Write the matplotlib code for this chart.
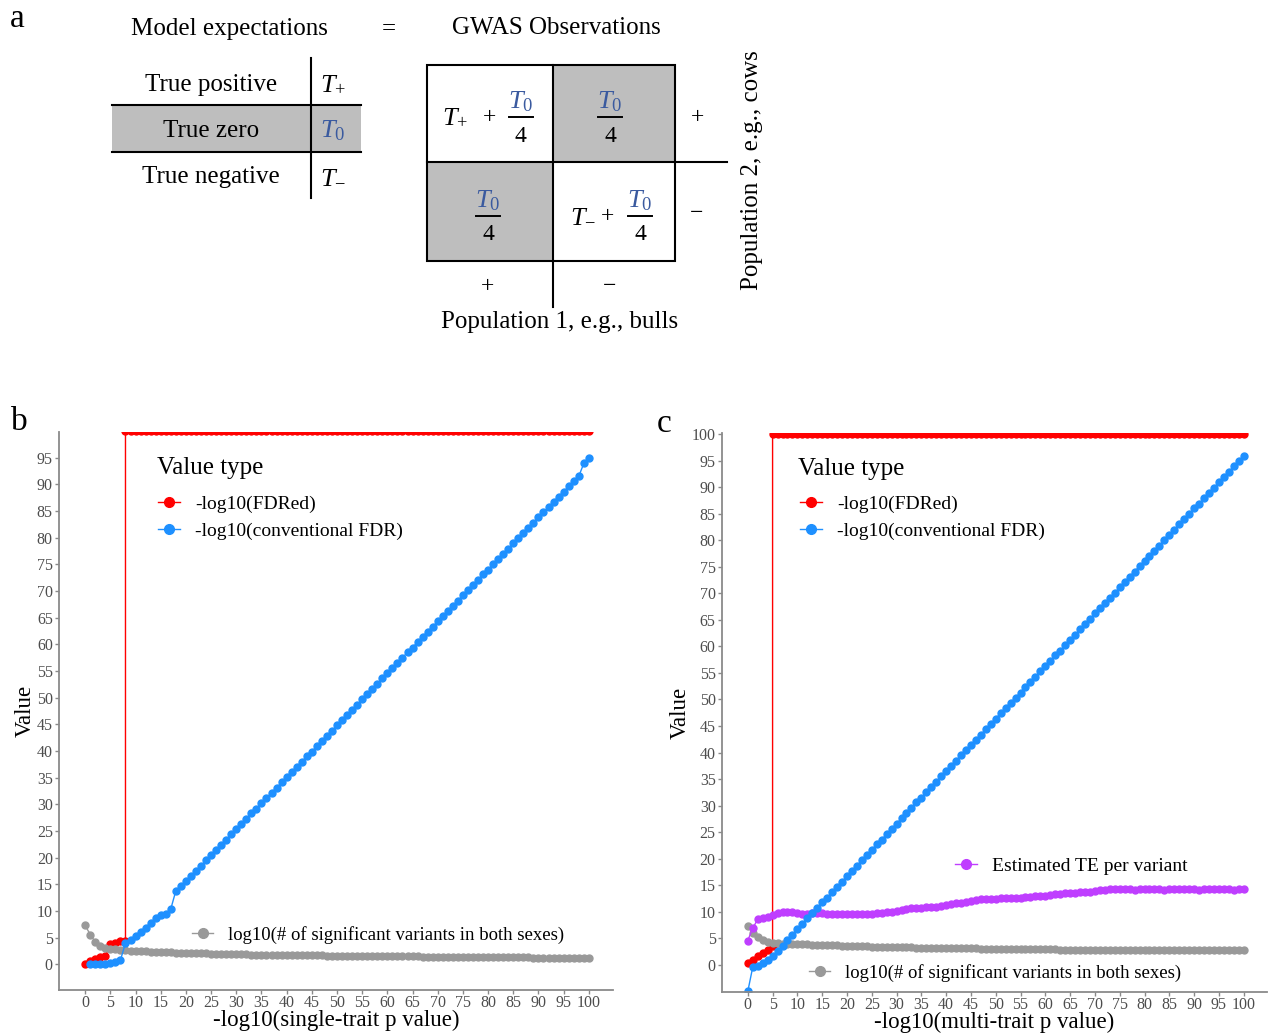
import matplotlib
matplotlib.use("Agg")
import matplotlib.pyplot as plt
from matplotlib.lines import Line2D
from matplotlib.patches import Rectangle

plt.rcParams["font.family"] = ["Liberation Serif", "DejaVu Serif"]
plt.rcParams["mathtext.fontset"] = "custom"
plt.rcParams["mathtext.rm"] = "Liberation Serif"
plt.rcParams["mathtext.it"] = "Liberation Serif:italic"

RED = "#FF0000"
BLUE = "#1E90FF"
GRAY = "#999999"
PURPLE = "#BF3EFF"
TBLUE = "#3A5A9F"
AXCOL = "#8A8A8A"
TICKCOL = "#4D4D4D"

# ---- panel b: single-trait ----
gray_b_x = list(range(0, 101))
gray_b = [7.3, 5.6, 4.2, 3.4, 3.0, 2.9, 2.8, 2.7, 2.65, 2.6, 2.5,
          2.5, 2.45, 2.4, 2.35, 2.3, 2.3, 2.25, 2.2, 2.2, 2.15,
          2.1, 2.1, 2.05, 2.05, 2.0, 2.0, 2.0, 1.95, 1.95, 1.9,
          1.9, 1.9, 1.85, 1.85, 1.85, 1.8, 1.8, 1.8, 1.8, 1.75,
          1.75, 1.75, 1.7, 1.7, 1.7, 1.7, 1.7, 1.65, 1.65, 1.65,
          1.65, 1.6, 1.6, 1.6, 1.6, 1.6, 1.55, 1.55, 1.55, 1.55,
          1.5, 1.5, 1.5, 1.5, 1.5, 1.5, 1.45, 1.45, 1.45, 1.45,
          1.45, 1.4, 1.4, 1.4, 1.4, 1.4, 1.4, 1.35, 1.35, 1.35,
          1.35, 1.35, 1.3, 1.3, 1.3, 1.3, 1.3, 1.3, 1.25, 1.25,
          1.25, 1.25, 1.25, 1.25, 1.2, 1.2, 1.2, 1.2, 1.2, 1.2]

blue_b_x = list(range(1, 101))
blue_b = [0.0, 0.0, 0.0, 0.1, 0.2, 0.4, 0.8, 4.0, 4.6, 5.3,
          6.1, 6.9, 7.8, 8.7, 9.3, 9.5, 10.4, 13.8, 14.7, 15.6,
          16.6, 17.5, 18.5, 19.5, 20.5, 21.4, 22.4, 23.4, 24.4, 25.3,
          26.3, 27.3, 28.3, 29.2, 30.2, 31.2, 32.2, 33.1, 34.1, 35.1,
          36.1, 37.0, 38.0, 39.0, 39.9, 40.9, 41.9, 42.9, 43.8, 44.8,
          45.8, 46.8, 47.7, 48.7, 49.7, 50.7, 51.6, 52.6, 53.6, 54.6,
          55.5, 56.5, 57.5, 58.5, 59.4, 60.4, 61.4, 62.4, 63.3, 64.3,
          65.3, 66.2, 67.2, 68.2, 69.2, 70.1, 71.1, 72.1, 73.1, 74.0,
          75.0, 76.0, 77.0, 77.9, 78.9, 79.9, 80.9, 81.8, 82.8, 83.8,
          84.8, 85.7, 86.7, 87.7, 88.6, 89.6, 90.6, 91.5, 93.9, 94.9]

red_b_x = list(range(0, 9)) + list(range(8, 101))
red_b = [0.1, 0.6, 1.0, 1.4, 1.5, 3.9, 4.1, 4.3, 4.4] + [100.0] * 93

# ---- panel c: multi-trait ----
gray_c_x = list(range(0, 101))
gray_c = [7.4, 6.1, 5.2, 4.7, 4.4, 4.2, 4.1, 4.0, 4.0, 3.95, 3.9,
          3.9, 3.85, 3.8, 3.8, 3.75, 3.75, 3.7, 3.7, 3.65, 3.6,
          3.6, 3.55, 3.5, 3.5, 3.45, 3.45, 3.4, 3.4, 3.35, 3.35,
          3.3, 3.3, 3.3, 3.25, 3.25, 3.25, 3.2, 3.2, 3.2, 3.15,
          3.15, 3.15, 3.1, 3.1, 3.1, 3.1, 3.05, 3.05, 3.05, 3.05,
          3.0, 3.0, 3.0, 3.0, 3.0, 3.0, 2.95, 2.95, 2.95, 2.95,
          2.95, 2.95, 2.9, 2.9, 2.9, 2.9, 2.9, 2.9, 2.9, 2.9,
          2.85, 2.85, 2.85, 2.85, 2.85, 2.85, 2.85, 2.85, 2.85, 2.85,
          2.8, 2.8, 2.8, 2.8, 2.8, 2.8, 2.8, 2.8, 2.8, 2.8,
          2.8, 2.8, 2.8, 2.8, 2.8, 2.8, 2.8, 2.8, 2.8, 2.8]

blue_c_x = list(range(0, 101))
blue_c = [-5.0, -0.4, -0.2, 0.3, 0.9, 1.7, 2.6, 3.6, 4.7, 5.7, 6.7,
          7.7, 8.8, 9.7, 10.8, 11.8, 12.7, 13.7, 14.7, 15.7, 16.7,
          17.7, 18.7, 19.7, 20.7, 21.7, 22.7, 23.6, 24.6, 25.6, 26.6,
          27.6, 28.6, 29.6, 30.6, 31.5, 32.5, 33.5, 34.5, 35.5, 36.5,
          37.5, 38.5, 39.5, 40.5, 41.4, 42.4, 43.4, 44.4, 45.4, 46.4,
          47.4, 48.4, 49.4, 50.3, 51.3, 52.3, 53.3, 54.3, 55.3, 56.3,
          57.3, 58.3, 59.2, 60.2, 61.2, 62.2, 63.2, 64.2, 65.2, 66.2,
          67.2, 68.2, 69.1, 70.1, 71.1, 72.1, 73.1, 74.1, 75.1, 76.1,
          77.1, 78.0, 79.0, 80.0, 81.0, 82.0, 83.0, 84.0, 85.0, 86.0,
          86.9, 87.9, 88.9, 89.9, 90.9, 91.9, 92.9, 93.9, 94.9, 95.8]

purple_c_x = list(range(0, 101))
purple_c = [4.6, 6.9, 8.6, 8.9, 9.1, 9.4, 9.7, 9.9, 9.9, 9.9, 9.7,
            9.6, 9.6, 9.7, 9.7, 9.7, 9.6, 9.6, 9.5, 9.5, 9.5,
            9.5, 9.5, 9.6, 9.6, 9.6, 9.7, 9.8, 9.9, 10.0, 10.2,
            10.4, 10.6, 10.7, 10.8, 10.8, 10.9, 10.9, 11.0, 11.1, 11.3,
            11.5, 11.6, 11.7, 11.8, 12.1, 12.3, 12.4, 12.4, 12.5, 12.5,
            12.6, 12.6, 12.6, 12.7, 12.7, 12.8, 12.8, 12.9, 12.9, 13.0,
            13.2, 13.4, 13.4, 13.5, 13.6, 13.6, 13.7, 13.7, 13.8, 13.9,
            14.1, 14.2, 14.3, 14.3, 14.3, 14.3, 14.3, 14.2, 14.3, 14.3,
            14.3, 14.3, 14.3, 14.2, 14.3, 14.3, 14.3, 14.3, 14.3, 14.3,
            14.2, 14.3, 14.3, 14.3, 14.3, 14.3, 14.3, 14.2, 14.3, 14.3]

red_c_x = list(range(0, 6)) + list(range(5, 101))
red_c = [0.4, 1.0, 1.6, 2.3, 2.9, 3.6] + [100.0] * 96

LEG_TITLE = "Value type"
LAB_FDRED = "-log10(FDRed)"
LAB_CONV = "-log10(conventional FDR)"
LAB_NSIG = "log10(# of significant variants in both sexes)"
LAB_TE = "Estimated TE per variant"
XTICKS = list(range(0, 101, 5))

W, H = 1268, 1033
fig = plt.figure(figsize=(W / 100, H / 100), dpi=100)

# ---- panel a: schematic, drawn in pixel coordinates ----
ax0 = fig.add_axes([0, 0, 1, 1])
ax0.set_xlim(0, W)
ax0.set_ylim(H, 0)
ax0.axis("off")

FS = 18
ax0.text(10, 27, "a", fontsize=24, va="baseline")
ax0.text(11, 430, "b", fontsize=24, va="baseline")
ax0.text(657, 432, "c", fontsize=24, va="baseline")

ax0.text(229, 35, "Model expectations", fontsize=FS, ha="center", va="baseline")
ax0.text(389, 35, "=", fontsize=FS, ha="center", va="baseline")
ax0.text(556, 34, "GWAS Observations", fontsize=FS, ha="center", va="baseline")

# left table
ax0.add_patch(Rectangle((112, 105), 249, 47, fc="#BEBEBE", ec="none"))
ax0.plot([112, 361], [105, 105], color="k", lw=1.5)
ax0.plot([112, 361], [152, 152], color="k", lw=1.5)
ax0.plot([311, 311], [58, 198], color="k", lw=1.5)
ax0.text(211, 91, "True positive", fontsize=FS, ha="center", va="baseline")
ax0.text(211, 137, "True zero", fontsize=FS, ha="center", va="baseline")
ax0.text(211, 183, "True negative", fontsize=FS, ha="center", va="baseline")
ax0.text(320, 91, r"$T_{+}$", fontsize=19, va="baseline")
ax0.text(320, 137, r"$T_{\mathit{0}}$", fontsize=19, va="baseline", color=TBLUE)
ax0.text(320, 183, r"$T_{-}$", fontsize=19, va="baseline")

# right 2x2 grid
ax0.add_patch(Rectangle((553, 65), 122, 97, fc="#BEBEBE", ec="none"))
ax0.add_patch(Rectangle((427, 162), 126, 99, fc="#BEBEBE", ec="none"))
ax0.add_patch(Rectangle((427, 65), 248, 196, fc="none", ec="k", lw=1.5))
ax0.plot([553, 553], [65, 307], color="k", lw=1.5)
ax0.plot([427, 727], [162, 162], color="k", lw=1.5)


def frac(xc, ybar):
    ax0.text(xc, ybar - 9, r"$T_{\mathit{0}}$", fontsize=19, ha="center",
             va="baseline", color=TBLUE)
    ax0.plot([xc - 12, xc + 12], [ybar, ybar], color="k", lw=1.4)
    ax0.text(xc, ybar + 24.5, "4", fontsize=17, ha="center", va="baseline")


frac(520.5, 117.3)
frac(610, 117.3)
frac(488, 216)
frac(640, 216)
ax0.text(442, 124, r"$T_{+}$", fontsize=19, va="baseline")
ax0.text(489, 123, "+", fontsize=17, ha="center", va="baseline")
ax0.text(570, 222, r"$T_{-}$", fontsize=19, va="baseline")
ax0.text(608, 222, "+", fontsize=17, ha="center", va="baseline")
ax0.text(698, 123, "+", fontsize=17, ha="center", va="baseline")
ax0.text(697, 219, "\u2212", fontsize=17, ha="center", va="baseline")
ax0.text(487, 292, "+", fontsize=17, ha="center", va="baseline")
ax0.text(610, 292, "\u2212", fontsize=17, ha="center", va="baseline")
ax0.text(560, 328, "Population 1, e.g., bulls", fontsize=FS, ha="center", va="baseline")
ax0.text(752, 170, "Population 2, e.g., cows", fontsize=FS, rotation=90,
         ha="center", va="center")


def style(ax, ylim, yticks, xlabel):
    ax.set_facecolor("none")
    ax.set_xlim(-5.2, 104.8)
    ax.set_ylim(*ylim)
    ax.set_xticks(XTICKS)
    ax.set_yticks(yticks)
    for s in ("top", "right"):
        ax.spines[s].set_visible(False)
    for s in ("left", "bottom"):
        ax.spines[s].set_color(AXCOL)
        ax.spines[s].set_linewidth(1.3)
    ax.tick_params(colors=AXCOL, labelcolor=TICKCOL, labelsize=11.5,
                   length=3, width=1)
    ax.tick_params(axis="x", pad=0.5)
    ax.tick_params(axis="y", pad=1.5)
    ax.set_xlabel(xlabel, fontsize=16.5, labelpad=-1)
    ax.set_ylabel("Value", fontsize=16.5, labelpad=1)


def key(color):
    return Line2D([], [], color=color, lw=1, marker="o", ms=7)


LEG = dict(frameon=False, borderpad=0, borderaxespad=0,
           handlelength=1.13, handletextpad=0.77, numpoints=1)
MK = dict(marker="o", ms=5, lw=1)


def value_legend(ax, xt, yt, xl, yl):
    ax.text(xt, yt, LEG_TITLE, fontsize=18, transform=ax.transAxes,
            va="baseline", ha="left")
    leg = ax.legend([key(RED), key(BLUE)], [LAB_FDRED, LAB_CONV], fontsize=14,
                    loc="center left", bbox_to_anchor=(xl, yl),
                    labelspacing=0.5, **LEG)
    ax.add_artist(leg)


# ---- panel b ----
axb = fig.add_axes([59 / W, 1 - 990 / H, 554 / W, 558 / H])
axb.plot(red_b_x, red_b, color=RED, **MK)
axb.plot(gray_b_x, gray_b, color=GRAY, **MK)
axb.plot(blue_b_x, blue_b, color=BLUE, **MK)
style(axb, (-4.8, 99.8), list(range(0, 100, 5)), "-log10(single-trait p value)")
value_legend(axb, 0.177, 0.9247, 0.1787, 0.8468)
axb.legend([key(GRAY)], [LAB_NSIG], fontsize=13.5, loc="center left",
           bbox_to_anchor=(0.240, 0.0986), **LEG)

# ---- panel c ----
axc = fig.add_axes([722 / W, 1 - 992 / H, 545 / W, 559 / H])
axc.plot(red_c_x, red_c, color=RED, **MK)
axc.plot(gray_c_x, gray_c, color=GRAY, **MK)
axc.plot(purple_c_x, purple_c, color=PURPLE, **MK)
axc.plot(blue_c_x, blue_c, color=BLUE, **MK)
style(axc, (-5.1, 100.2), list(range(0, 101, 5)), "-log10(multi-trait p value)")
axc.set_xlim(-5.2, 104.7)
value_legend(axc, 0.1394, 0.9249, 0.1431, 0.8489)
lc2 = axc.legend([key(PURPLE)], [LAB_TE], fontsize=14, loc="center left",
                 bbox_to_anchor=(0.4275, 0.2254), **LEG)
axc.add_artist(lc2)
axc.legend([key(GRAY)], [LAB_NSIG], fontsize=13.5, loc="center left",
           bbox_to_anchor=(0.1596, 0.034), **LEG)

fig.savefig("out.png", dpi=100)
